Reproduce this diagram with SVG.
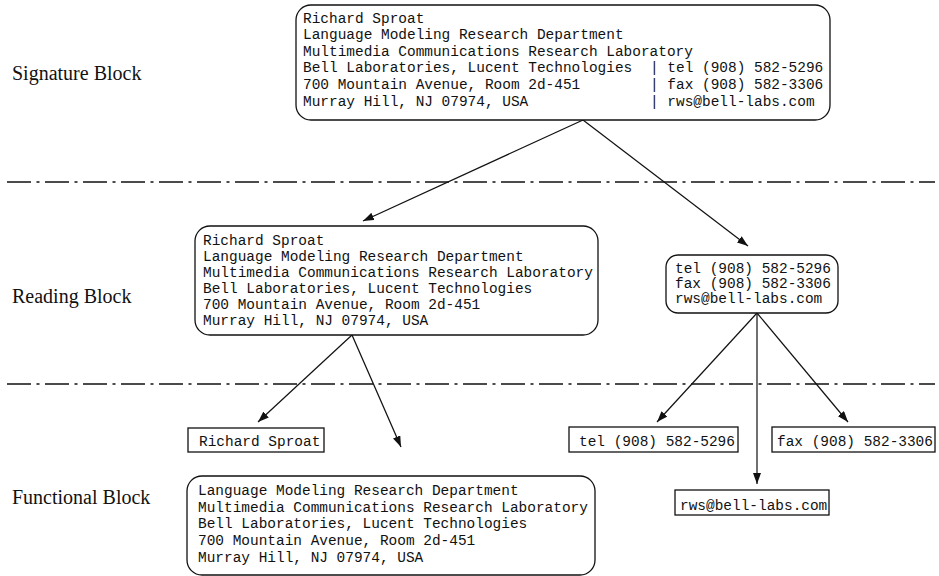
<svg xmlns="http://www.w3.org/2000/svg" width="939" height="576" viewBox="0 0 939 576">
<style>
.bg{fill:#fff}
.box{fill:#fff;stroke:#111;stroke-width:1.3}
.m{font-family:"Liberation Mono","Courier New",monospace;font-size:14.45px;fill:#111}
.lbl{font-family:"Liberation Serif","Times New Roman",serif;font-size:20px;fill:#111}
.sep{stroke:#111;stroke-width:1.3;stroke-dasharray:24 5.5 3 5.5;fill:none}
.con{stroke:#111;stroke-width:1.2;fill:none;marker-end:url(#ah)}
</style>
<defs>
<marker id="ah" markerUnits="userSpaceOnUse" markerWidth="11" markerHeight="8" refX="11" refY="4" orient="auto">
<path d="M0,0 L11,4 L0,8 z" fill="#111"/>
</marker>
</defs>
<rect class="bg" x="0" y="0" width="939" height="576"/>
<g id="labels">
<text class="lbl" x="12" y="80">Signature Block</text>
<text class="lbl" x="12" y="303">Reading Block</text>
<text class="lbl" x="12" y="504">Functional Block</text>
</g>
<g id="separators">
<line class="sep" x1="7" y1="182" x2="935" y2="182"/>
<line class="sep" x1="7" y1="384" x2="935" y2="384"/>
</g>
<g id="connectors">
<line class="con" x1="583" y1="120" x2="363" y2="221"/>
<line class="con" x1="583" y1="120" x2="748" y2="246"/>
<line class="con" x1="352" y1="335" x2="258" y2="422"/>
<line class="con" x1="352" y1="335" x2="401" y2="447"/>
<line class="con" x1="757" y1="313" x2="657" y2="422"/>
<line class="con" x1="757" y1="313" x2="757" y2="484"/>
<line class="con" x1="757" y1="313" x2="848" y2="422"/>
</g>
<g id="signature">
<rect class="box" x="296" y="5" width="534" height="115" rx="15"/>
<text class="m" x="303" y="22.5">Richard Sproat</text>
<text class="m" x="303" y="39.1">Language Modeling Research Department</text>
<text class="m" x="303" y="55.7">Multimedia Communications Research Laboratory</text>
<text class="m" x="303" y="72.3">Bell Laboratories, Lucent Technologies</text>
<text class="m" x="303" y="88.9">700 Mountain Avenue, Room 2d-451</text>
<text class="m" x="303" y="105.5">Murray Hill, NJ 07974, USA</text>
<text class="m" x="650" y="72.3">| tel (908) 582-5296</text>
<text class="m" x="650" y="88.9">| fax (908) 582-3306</text>
<text class="m" x="650" y="105.5">| rws@bell-labs.com</text>
</g>
<g id="reading-address">
<rect class="box" x="195" y="226" width="403" height="109" rx="15"/>
<text class="m" x="203" y="245">Richard Sproat</text>
<text class="m" x="203" y="261">Language Modeling Research Department</text>
<text class="m" x="203" y="277">Multimedia Communications Research Laboratory</text>
<text class="m" x="203" y="293">Bell Laboratories, Lucent Technologies</text>
<text class="m" x="203" y="309">700 Mountain Avenue, Room 2d-451</text>
<text class="m" x="203" y="325">Murray Hill, NJ 07974, USA</text>
</g>
<g id="reading-contact">
<rect class="box" x="666" y="255" width="172" height="58" rx="12"/>
<text class="m" x="675" y="273">tel (908) 582-5296</text>
<text class="m" x="675" y="288">fax (908) 582-3306</text>
<text class="m" x="675" y="303">rws@bell-labs.com</text>
</g>
<g id="func-name">
<rect class="box" x="188" y="428" width="136" height="24"/>
<text class="m" x="199" y="446">Richard Sproat</text>
</g>
<g id="func-address">
<rect class="box" x="187" y="476" width="408" height="99" rx="15"/>
<text class="m" x="198" y="495">Language Modeling Research Department</text>
<text class="m" x="198" y="511.7">Multimedia Communications Research Laboratory</text>
<text class="m" x="198" y="528.3">Bell Laboratories, Lucent Technologies</text>
<text class="m" x="198" y="545">700 Mountain Avenue, Room 2d-451</text>
<text class="m" x="198" y="561.7">Murray Hill, NJ 07974, USA</text>
</g>
<g id="func-tel">
<rect class="box" x="569" y="427" width="169" height="25"/>
<text class="m" x="579" y="446">tel (908) 582-5296</text>
</g>
<g id="func-fax">
<rect class="box" x="772" y="427" width="163" height="25"/>
<text class="m" x="777" y="446">fax (908) 582-3306</text>
</g>
<g id="func-email">
<rect class="box" x="675" y="490" width="154" height="25"/>
<text class="m" x="680" y="510">rws@bell-labs.com</text>
</g>
</svg>
